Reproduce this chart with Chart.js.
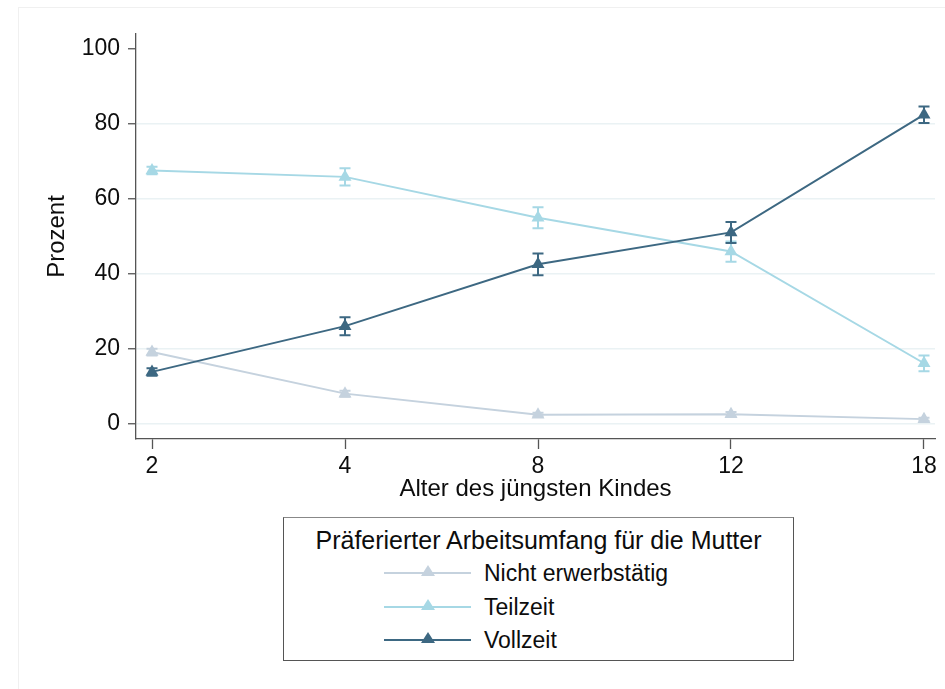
<!DOCTYPE html>
<html lang="de">
<head>
<meta charset="utf-8">
<title>Präferierter Arbeitsumfang für die Mutter</title>
<script src="https://cdn.jsdelivr.net/npm/chart.js@4.4.1/dist/chart.umd.min.js"></script>
<style>
  html, body { margin: 0; padding: 0; background: #fff; }
  body { width: 945px; height: 689px; position: relative; overflow: hidden;
         font-family: 'Liberation Sans', Arial, sans-serif; color: #0d0d0d; }
  #frame { position: absolute; left: 18px; top: 7px; right: 0; bottom: 0;
           border-left: 1px solid #f0f0f0; border-top: 1px solid #f0f0f0; }
  #chart { position: absolute; left: 0; top: 0; }
  .legend { position: absolute; left: 283px; top: 517px; width: 509px; height: 142px;
            border: 1px solid #555; border-top-color: #888; background: #fff; }
  .legend .title { position: absolute; left: 0; right: 0; top: 6px; text-align: center;
                   font-size: 25px; line-height: 32px; }
  .legend .row { position: absolute; left: 99px; height: 33px; font-size: 23px; line-height: 33px; }
  .legend .row svg { position: absolute; left: 0; top: 0; }
  .legend .row span { position: absolute; left: 101px; top: 0; white-space: nowrap; }
</style>
</head>
<body>
<div id="frame"></div>
<canvas id="chart" width="945" height="689"></canvas>
<div class="legend" id="legend">
  <div class="title">Präferierter Arbeitsumfang für die Mutter</div>
</div>
<script>
// Alter des jüngsten Kindes
const ages = ['2', '4', '8', '12', '18']
const yTicks = [0, 20, 40, 60, 80, 100]

// Prozent je Gruppe
const nichtErwerb = [19.2, 8.1, 2.5, 2.6, 1.3]
const teilzeit = [67.6, 65.9, 55.0, 46.0, 16.2]
const vollzeit = [13.9, 26.1, 42.6, 51.1, 82.5]

// halbe Breite der Konfidenzintervalle
const nichtErwerbCI = [0.9, 0.8, 0.5, 0.6, 0.4]
const teilzeitCI = [1.0, 2.3, 2.8, 2.7, 2.1]
const vollzeitCI = [1.0, 2.4, 2.9, 2.8, 2.2]

const seriesNames = ['Nicht erwerbstätig', 'Teilzeit', 'Vollzeit']
const seriesColors = ['#c5d2de', '#a6d8e5', '#3d6882']

const FONT = "'Liberation Sans', Arial, sans-serif"
Chart.defaults.font.family = FONT
Chart.defaults.color = '#0d0d0d'

function toPoints(arr, ci) {
  return arr.map((v, i) => ({ x: i, y: v, ci: ci[i] }))
}

function makeDataset(label, arr, ci, color, order) {
  return {
    label: label,
    data: toPoints(arr, ci),
    borderColor: color,
    backgroundColor: color,
    borderWidth: 2,
    pointStyle: 'triangle',
    pointRadius: 7.5,
    pointHoverRadius: 7.5,
    pointBorderWidth: 0,
    tension: 0,
    order: order
  }
}

// vertical error bars with caps, drawn through the chart's scales
const errorBars = {
  id: 'errorBars',
  beforeDatasetDraw(chart, args) {
    const ds = chart.data.datasets[args.index]
    const xs = chart.scales.x, ys = chart.scales.y
    const ctx = chart.ctx
    ctx.save()
    ctx.strokeStyle = ds.borderColor
    ctx.lineWidth = 2
    ds.data.forEach(p => {
      const x = xs.getPixelForValue(p.x)
      const top = ys.getPixelForValue(p.y + p.ci)
      const bot = ys.getPixelForValue(p.y - p.ci)
      ctx.beginPath()
      ctx.moveTo(x, top); ctx.lineTo(x, bot)
      ctx.moveTo(x - 5.5, top); ctx.lineTo(x + 5.5, top)
      ctx.moveTo(x - 5.5, bot); ctx.lineTo(x + 5.5, bot)
      ctx.stroke()
    })
    ctx.restore()
  }
}

const ctx = document.getElementById('chart')
const myChart = new Chart(ctx, {
  type: 'line',
  data: {
    datasets: [
      makeDataset(seriesNames[0], nichtErwerb, nichtErwerbCI, seriesColors[0], 2),
      makeDataset(seriesNames[1], teilzeit, teilzeitCI, seriesColors[1], 1),
      makeDataset(seriesNames[2], vollzeit, vollzeitCI, seriesColors[2], 0)
    ]
  },
  options: {
    responsive: false,
    animation: false,
    events: [],
    layout: { padding: { left: 0, top: 34, right: 10, bottom: 185 } },
    plugins: { legend: { display: false }, tooltip: { enabled: false } },
    scales: {
      x: {
        type: 'linear',
        min: -16 / 193,
        max: 4 + 11 / 193,
        afterBuildTicks: s => { s.ticks = ages.map((a, i) => ({ value: i })) },
        afterFit: s => { s.height = 65 },
        ticks: {
          callback: v => ages[v],
          font: { size: 23 },
          padding: 4,
          maxRotation: 0
        },
        grid: { drawOnChartArea: false, tickLength: 10, tickColor: '#555', tickWidth: 1.3 },
        border: { color: '#555', width: 1.3 },
        title: {
          display: true,
          text: 'Alter des jüngsten Kindes',
          font: { size: 24 },
          padding: { top: 0, bottom: 0 }
        }
      },
      y: {
        min: -4,
        max: 104,
        afterBuildTicks: s => { s.ticks = yTicks.map(v => ({ value: v })) },
        afterFit: s => { s.width = 136 },
        ticks: { font: { size: 23 }, padding: 8 },
        grid: {
          color: c => (c.tick && c.tick.value === 100) ? 'rgba(0,0,0,0)' : '#eaf2f4',
          lineWidth: 1.5,
          tickLength: 8,
          tickColor: '#555',
          tickWidth: 1.3
        },
        border: { color: '#555', width: 1.3 },
        title: {
          display: true,
          text: 'Prozent',
          font: { size: 24 },
          padding: { top: 43, bottom: 0 }
        }
      }
    }
  },
  plugins: [errorBars]
})

// legend box below the chart
const legendBox = document.getElementById('legend')
seriesNames.forEach((name, i) => {
  const row = document.createElement('div')
  row.className = 'row'
  row.style.top = (39 + i * 33.5) + 'px'
  const c = seriesColors[i]
  row.innerHTML =
    '<svg width="90" height="33"><line x1="1" y1="16" x2="88" y2="16" stroke="' + c + '" stroke-width="2"/>' +
    '<polygon points="45,8 52,19 38,19" fill="' + c + '"/></svg>' +
    '<span>' + name + '</span>'
  legendBox.appendChild(row)
})
</script>
</body>
</html>
